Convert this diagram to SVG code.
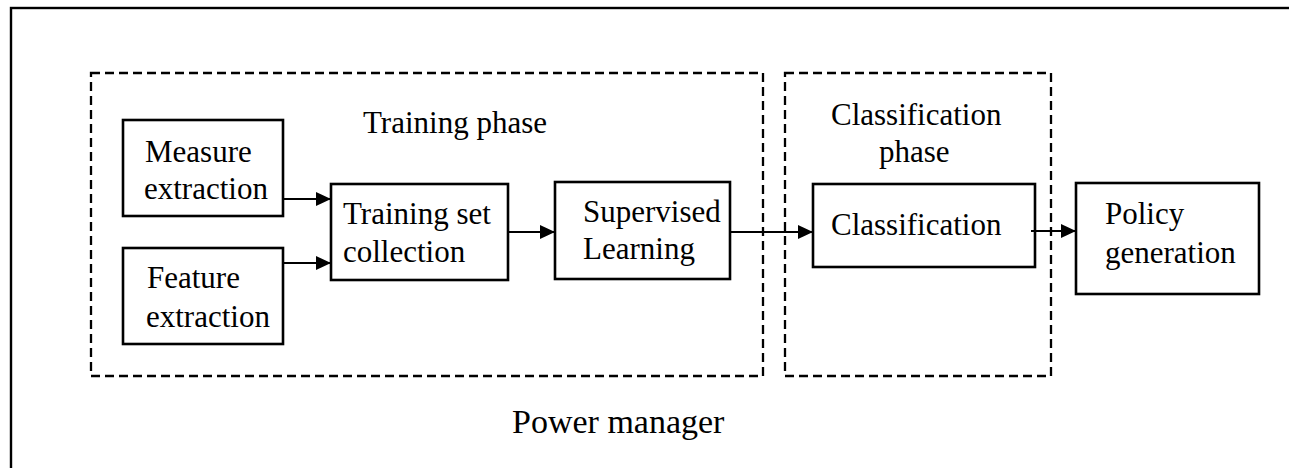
<svg xmlns="http://www.w3.org/2000/svg" width="1289" height="468" viewBox="0 0 1289 468">
<defs>
<marker id="arr" markerUnits="userSpaceOnUse" markerWidth="15" markerHeight="14" refX="15" refY="7" orient="auto">
<path d="M0,0 L15,7 L0,14 Z" fill="#000"/>
</marker>
<style>
.box{fill:#fff;stroke:#000;stroke-width:2.6}
.dash{fill:none;stroke:#000;stroke-width:2.3;stroke-dasharray:9 5}
.t{font-family:"Liberation Serif","Times New Roman",serif;font-size:31px;fill:#000}
.big{font-size:34px}
.c{fill:none;stroke:#000;stroke-width:2.2}
</style>
</defs>
<rect id="frame" x="11" y="8" width="1300" height="480" fill="none" stroke="#000" stroke-width="2.4"/>
<g id="training-phase">
<rect class="dash" x="91" y="73" width="672" height="303"/>
<text class="t" x="363" y="133">Training phase</text>
</g>
<g id="classification-phase">
<rect class="dash" x="785" y="73" width="266" height="303"/>
<text class="t" x="831" y="125">Classification</text>
<text class="t" x="879" y="162">phase</text>
</g>
<g id="measure">
<rect class="box" x="123" y="120" width="160" height="96"/>
<text class="t" x="145" y="162">Measure</text>
<text class="t" x="144" y="199">extraction</text>
</g>
<g id="feature">
<rect class="box" x="123" y="248" width="160" height="96"/>
<text class="t" x="147" y="288">Feature</text>
<text class="t" x="146" y="327">extraction</text>
</g>
<g id="training-set">
<rect class="box" x="331" y="184" width="177" height="96"/>
<text class="t" x="343" y="224">Training set</text>
<text class="t" x="343" y="262">collection</text>
</g>
<g id="supervised">
<rect class="box" x="555" y="182" width="175" height="97"/>
<text class="t" x="583" y="222">Supervised</text>
<text class="t" x="583" y="259">Learning</text>
</g>
<g id="classification">
<rect class="box" x="813" y="184" width="222" height="83"/>
<text class="t" x="831" y="235">Classification</text>
</g>
<g id="policy">
<rect class="box" x="1076" y="183" width="183" height="111"/>
<text class="t" x="1105" y="224">Policy</text>
<text class="t" x="1105" y="263">generation</text>
</g>
<g id="connectors">
<line class="c" x1="283" y1="199" x2="331" y2="199" marker-end="url(#arr)"/>
<line class="c" x1="283" y1="263" x2="331" y2="263" marker-end="url(#arr)"/>
<line class="c" x1="508" y1="232" x2="555" y2="232" marker-end="url(#arr)"/>
<line class="c" x1="730" y1="232" x2="813" y2="232" marker-end="url(#arr)"/>
<line class="c" x1="1031" y1="231" x2="1076" y2="231" marker-end="url(#arr)"/>
</g>
<text id="power-manager" class="t big" x="512" y="433">Power manager</text>
</svg>
